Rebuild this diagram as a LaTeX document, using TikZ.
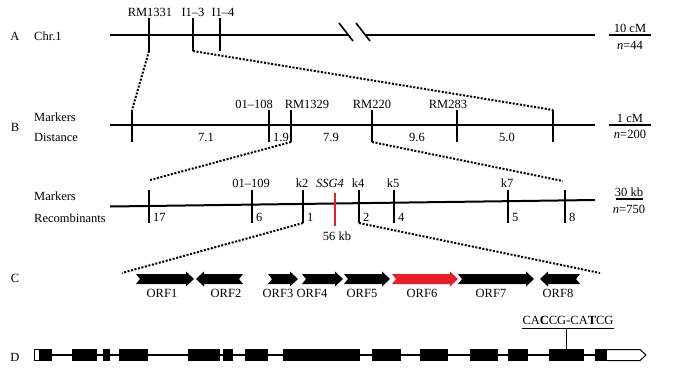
\documentclass[tikz,border=0pt]{standalone}
\usepackage{fontspec}
\setmainfont{Liberation Serif}
\definecolor{orfred}{RGB}{232,30,38}
\tikzset{
  chrom/.style={line width=2pt},
  tickmark/.style={line width=2pt},
  zoomline/.style={line width=2pt,dash pattern=on 2pt off 1.6pt},
  lbl/.style={inner sep=0pt,font=\fontsize{12.5}{14}\selectfont},
  rowlbl/.style={lbl,anchor=west},
  bar/.style={line width=1.2pt}
}
% ORF arrow: tail x, tip x, y, colour
\newcommand\orfarrow[4]{%
  \pgfmathsetmacro\od{sign(#2-#1)}%
  \fill[#4] (#1,#3-5) -- (#2-8*\od,#3-5) -- (#2-8*\od,#3-7.5) -- (#2,#3)
    -- (#2-8*\od,#3+7.5) -- (#2-8*\od,#3+5) -- (#1,#3+5) -- (#1+4*\od,#3) -- cycle;}
\begin{document}
\begin{tikzpicture}[x=1pt,y=-1pt]
\useasboundingbox (0,0) rectangle (680,373);
% A
\node[lbl] (rowA) at (15,36) {A};
\node[rowlbl] (chr) at (34,36) {Chr.1};
\draw[chrom] (110,35) -- (348,35) (366,35) -- (595,35);
\draw[line width=1.6pt] (339,23) -- (353,41) (356,23) -- (370,41);
\foreach \x/\nm/\lx/\txt in {149/rm1331/150/RM1331,193/ia/193/I1--3,220/ib/223/I1--4}{
  \draw[tickmark] (\x,18) coordinate (\nm t) -- (\x,51) coordinate (\nm b);
  \node[lbl] (l\nm) at (\lx,12) {\txt};
}
\node[lbl] (cmA) at (630,28) {10 cM};
\draw[bar] (609,35) -- (651,35);
\node[lbl] (nA) at (630,45) {\textit{n}=44};
% B
\node[lbl] (rowB) at (15,127) {B};
\node[rowlbl] (mkB) at (34,117) {Markers};
\node[rowlbl] (dsB) at (34,137) {Distance};
\draw[chrom] (110,125) -- (595,125);
\foreach \x/\nm in {132/b1,269/b2,291/b3,372/b4,457/b5,553/b6}
  \draw[tickmark] (\x,110) coordinate (\nm t) -- (\x,142) coordinate (\nm b);
\foreach \lx/\nm/\txt in {254/o108/01--108,307/rm1329/RM1329,372/rm220/RM220,448/rm283/RM283}
  \node[lbl] (l\nm) at (\lx,104) {\txt};
\foreach \lx/\nm/\txt in {206/d1/7.1,281/d2/1.9,331/d3/7.9,417/d4/9.6,507/d5/5.0}
  \node[lbl] (\nm) at (\lx,137) {\txt};
\node[lbl] (cmB) at (630,118) {1 cM};
\draw[bar] (609,125) -- (651,125);
\node[lbl] (nB) at (630,134) {\textit{n}=200};
\draw[zoomline] (rm1331b) -- (b1t);
\draw[zoomline] (iab) -- (b6t);
% fine map
\node[rowlbl] (mkC) at (34,196) {Markers};
\node[rowlbl] (rcC) at (34,218) {Recombinants};
\draw[chrom] (110,206.5) -- (595,200);
\foreach \x/\nm/\num in {149/c1/17,252/c2/6,303/k2/1,359/k4/2,394/k5/4,508/k7/5,565/c8/8}{
  \draw[tickmark] (\x,190) coordinate (\nm t) -- (\x,223) coordinate (\nm b);
  \node[lbl,anchor=west] (r\nm) at (\x+4,217) {\num};
}
\draw[tickmark,orfred] (335,193) coordinate (ssgt) -- (335,226) coordinate (ssgb);
\foreach \lx/\nm/\txt in {251/o109/01--109,302/lk2/k2,330/lssg/\textit{SSG4},358/lk4/k4,393/lk5/k5,507/lk7/k7}
  \node[lbl] (\nm) at (\lx,183) {\txt};
\node[lbl] (kb56) at (337,236) {56 kb};
\node[lbl] (kbC) at (629,192) {30 kb};
\draw[line width=2.6pt] (616,199) -- (643,199);
\node[lbl] (nC) at (629,209) {\textit{n}=750};
\coordinate (zl) at (150,180);
\coordinate (zr) at (563,181);
\draw[zoomline] (b3b) -- (zl);
\draw[zoomline] (b4b) -- (zr);
% C
\node[lbl] (rowC) at (15,278) {C};
\coordinate (ol) at (122,273);
\coordinate (or) at (600,273);
\draw[zoomline] (k2b) -- (ol);
\draw[zoomline] (k4b) -- (or);
\foreach \a/\b/\c/\n/\lx in {136/194/black/1/162,243/196/black/2/226,268/298/black/3/278,302/343/black/4/312,
    344/390/black/5/362,392/458/orfred/6/422,458/534/black/7/491,580/540/black/8/558}{
  \orfarrow{\a}{\b}{279}{\c}
  \node[lbl] (orf\n) at (\lx,293) {ORF\n};
}
% D
\node[lbl] (rowD) at (15,357) {D};
\draw[line width=1.6pt] (52,355) -- (595,355);
\foreach \a/\b in {39/52,72/97,103/110,119/148,188/220,223/233,245/268,283/360,
    372/401,420/448,470/498,508/528,549/584,595/607}
  \fill (\a,349) rectangle (\b,361);
\draw[line width=1pt,fill=white] (34.5,349.5) rectangle (39,360.5);
\draw[line width=1pt,fill=white] (607,349.5) -- (640,349.5) -- (646,355) -- (640,360.5) -- (607,360.5);
\node[lbl] (motif) at (568,320) {CA\textbf{C}CG-CA\textbf{T}CG};
\draw[line width=.8pt] (522,328) -- (614,328);
\coordinate (motifbar) at (566.5,328);
\coordinate (ex13) at (566.5,349);
\draw[line width=.8pt] (motifbar) -- (ex13);
\end{tikzpicture}
\end{document}
